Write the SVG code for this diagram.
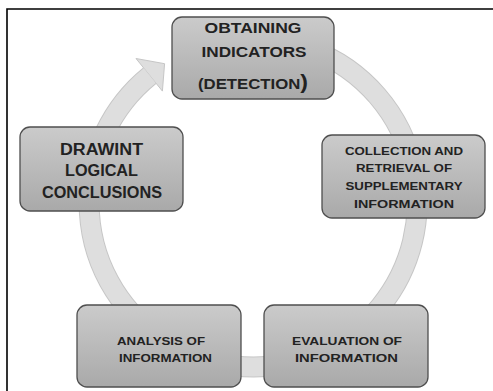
<svg xmlns="http://www.w3.org/2000/svg" width="493" height="391" viewBox="0 0 493 391">
<defs>
<linearGradient id="g" x1="0" y1="0" x2="0" y2="1">
<stop offset="0" stop-color="#cbcbcb"/>
<stop offset="1" stop-color="#a9a9a9"/>
</linearGradient>
<style>
.n{fill:url(#g);stroke:#4f4f4f;stroke-width:1.3}
.t{font-family:"Liberation Sans",Arial,sans-serif;font-weight:bold;fill:#222;text-anchor:middle}
.ro{fill:none;stroke:#c6c6c6;stroke-width:21}
.ri{fill:none;stroke:#dedede;stroke-width:19}
</style>
</defs>
<rect width="493" height="391" fill="#fff"/>
<path d="M7,391 V9 H493" fill="none" stroke="#000" stroke-width="1.6"/>
<g id="connectors">
<path class="ro" d="M238.7,39.6 A164,164 0 1 1 149.8,75.6"/>
<polygon points="136,58.5 164.6,63.7 162.4,91.1" fill="#dedede" stroke="#c6c6c6" stroke-width="1"/>
<path class="ri" d="M238.7,39.6 A164,164 0 1 1 149.8,75.6"/>
</g>
<g id="n1">
<rect class="n" x="172" y="17" width="162" height="82" rx="10"/>
<text class="t" font-size="14.5" x="253" y="33" textLength="97" lengthAdjust="spacingAndGlyphs">OBTAINING</text>
<text class="t" font-size="14.5" x="254" y="57" textLength="105" lengthAdjust="spacingAndGlyphs">INDICATORS</text>
<text class="t" font-size="14.5" x="253" y="89" textLength="110" lengthAdjust="spacingAndGlyphs">(DETECTION<tspan font-size="20">)</tspan></text>
</g>
<g id="n2">
<rect class="n" x="322" y="135" width="163" height="83" rx="10"/>
<text class="t" font-size="11.5" x="404" y="155" textLength="118" lengthAdjust="spacingAndGlyphs">COLLECTION AND</text>
<text class="t" font-size="11.5" x="404" y="172" textLength="96" lengthAdjust="spacingAndGlyphs">RETRIEVAL OF</text>
<text class="t" font-size="11.5" x="404" y="190" textLength="117" lengthAdjust="spacingAndGlyphs">SUPPLEMENTARY</text>
<text class="t" font-size="11.5" x="404" y="208" textLength="100" lengthAdjust="spacingAndGlyphs">INFORMATION</text>
</g>
<g id="n3">
<rect class="n" x="264" y="305" width="164" height="82" rx="10"/>
<text class="t" font-size="11.5" x="347" y="345" textLength="110" lengthAdjust="spacingAndGlyphs">EVALUATION OF</text>
<text class="t" font-size="11.5" x="346.5" y="362" textLength="103" lengthAdjust="spacingAndGlyphs">INFORMATION</text>
</g>
<g id="n4">
<rect class="n" x="77" y="305" width="164" height="82" rx="10"/>
<text class="t" font-size="11.5" x="161" y="345" textLength="88" lengthAdjust="spacingAndGlyphs">ANALYSIS OF</text>
<text class="t" font-size="11.5" x="165.5" y="362" textLength="93" lengthAdjust="spacingAndGlyphs">INFORMATION</text>
</g>
<g id="n5">
<rect class="n" x="20" y="127" width="163" height="84" rx="10"/>
<text class="t" font-size="16" x="101.5" y="155" textLength="83" lengthAdjust="spacingAndGlyphs">DRAWINT</text>
<text class="t" font-size="16" x="101.5" y="176" textLength="73" lengthAdjust="spacingAndGlyphs">LOGICAL</text>
<text class="t" font-size="16" x="102" y="198" textLength="120" lengthAdjust="spacingAndGlyphs">CONCLUSIONS</text>
</g>
</svg>
